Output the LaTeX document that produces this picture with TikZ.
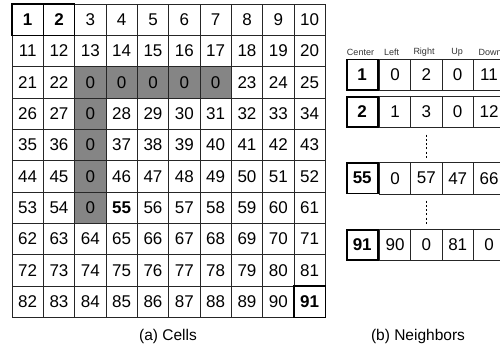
\documentclass[tikz,border=0pt]{standalone}
\usepackage{fontspec}
\setmainfont{Liberation Sans}
\begin{document}
\begin{tikzpicture}[x=1pt,y=-1pt,
  cell/.style={draw=black!85,line width=0.8pt,minimum width=31.33pt,minimum height=31.33pt,inner sep=0pt,outer sep=0pt,font=\fontsize{17}{18}\selectfont},
  nbcell/.style={draw=black!85,line width=0.8pt,minimum width=31.3pt,minimum height=31.5pt,inner sep=0pt,outer sep=0pt,font=\fontsize{17}{18}\selectfont},
  ctrcell/.style={draw=black,line width=1.6pt,minimum width=31pt,minimum height=30.3pt,inner sep=0pt,outer sep=0pt,font=\bfseries\fontsize{17}{18}\selectfont},
  hdr/.style={font=\fontsize{9}{10}\selectfont,text=black!80,inner sep=0pt},
  thickbox/.style={draw=black,line width=1.6pt},
  shadefill/.style={fill=black!48},
  caption/.style={font=\fontsize{15.5}{18}\selectfont,inner sep=0pt},
  dotline/.style={line width=1.9pt,dash pattern=on 2pt off 2.3pt}]
\clip (0,0) rectangle (500,349);
% shaded cells
\fill[shadefill] (74.66,66.66) rectangle (231.33,98);
\fill[shadefill] (74.66,98) rectangle (106,223.33);
% grid
\foreach \r/\labels in {
  0/{{\textbf{1}},{\textbf{2}},3,4,5,6,7,8,9,10},
  1/{11,12,13,14,15,16,17,18,19,20},
  2/{21,22,0,0,0,0,0,23,24,25},
  3/{26,27,0,28,29,30,31,32,33,34},
  4/{35,36,0,37,38,39,40,41,42,43},
  5/{44,45,0,46,47,48,49,50,51,52},
  6/{53,54,0,{\textbf{55}},56,57,58,59,60,61},
  7/{62,63,64,65,66,67,68,69,70,71},
  8/{72,73,74,75,76,77,78,79,80,81},
  9/{82,83,84,85,86,87,88,89,90,{\textbf{91}}}}{
  \foreach \lab [count=\c from 0] in \labels {
    \node[cell] (g-\r-\c) at ({12+31.33*(\c+0.5)},{4+31.33*(\r+0.5)}) {\lab};
  }
}
\draw[thickbox] (g-0-0.north west) rectangle (g-0-0.south east);
\draw[thickbox] (g-0-1.north west) rectangle (g-0-1.south east);
\draw[thickbox] (g-9-9.north west) rectangle (g-9-9.south east);
\node[caption] (capa) at (168,336.5) {(a) Cells};
% neighbor table headers
\node[hdr] (hC) at (360.5,52.5) {Center};
\node[hdr] (hL) at (391.5,52.5) {Left};
\node[hdr] (hR) at (424,52.5) {Right};
\node[hdr] (hU) at (457,52.5) {Up};
\node[hdr] (hD) at (490,52.5) {Down};
% neighbor rows
\foreach \y/\cc/\a/\b/\u/\d [count=\i] in {74.75/1/0/2/0/11, 111.85/2/1/3/0/12, 178.15/55/0/57/47/66, 245/91/90/0/81/0}{
  \node[ctrcell] (ctr-\i) at (362.2,\y) {\cc};
  \node[nbcell] (nl-\i) at (395.1,\y) {\a};
  \node[nbcell] (nr-\i) at (426.4,\y) {\b};
  \node[nbcell] (nu-\i) at (457.7,\y) {\u};
  \node[nbcell] (nd-\i) at (489,\y) {\d};
}
\coordinate (d1a) at (426.5,134.5);
\coordinate (d1b) at (426.5,158);
\coordinate (d2a) at (426.5,200.5);
\coordinate (d2b) at (426.5,224);
\draw[dotline] (d1a) -- (d1b);
\draw[dotline] (d2a) -- (d2b);
\node[caption] (capb) at (418,336.5) {(b) Neighbors};
\end{tikzpicture}
\end{document}
